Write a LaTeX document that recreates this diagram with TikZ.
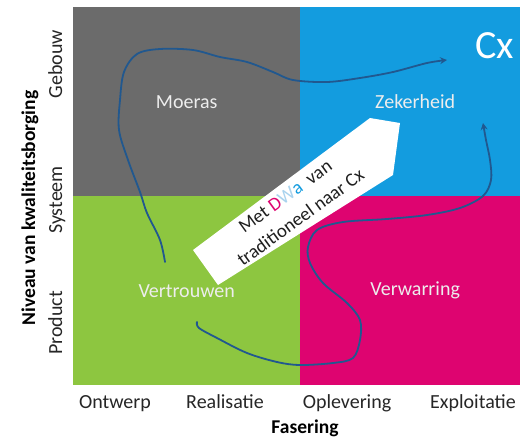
\documentclass[tikz,border=0pt]{standalone}
\usepackage{fontspec}
\setmainfont{Carlito}
\usetikzlibrary{arrows.meta}
\definecolor{qgray}{HTML}{6B6B6B}
\definecolor{qblue}{HTML}{139CDF}
\definecolor{qgreen}{HTML}{8DC640}
\definecolor{qmag}{HTML}{DE0470}
\definecolor{pen}{HTML}{21588F}
\definecolor{dwaw}{HTML}{A9D3EE}
\definecolor{axtext}{HTML}{262626}
\tikzset{
  quad/.style={draw=none, inner sep=0pt, minimum width=227pt, minimum height=189pt, text=white!93!black, font=\fontsize{20}{22}\selectfont},
  axlab/.style={text=axtext, font=\fontsize{20}{22}\selectfont, inner sep=0pt, anchor=base},
  axtitle/.style={text=black, font=\bfseries\fontsize{19.5}{22}\selectfont, inner sep=0pt, anchor=base},
  penline/.style={draw=pen, line width=1.8pt, line cap=round, line join=round},
  pentip/.style={-{Stealth[length=7pt,width=7pt,inset=2.5pt]}}
}
\begin{document}
\begin{tikzpicture}[x=1pt,y=-1pt]
\useasboundingbox (0,0) rectangle (520,437);
\fill[white] (0,0) rectangle (520,437);
% quadrants
\node[quad, fill=qgray, anchor=north west] (moeras) at (73,7) {Moeras};
\node[quad, fill=qblue, anchor=north west, minimum width=230pt] (zeker) at (300,7) {Zekerheid};
\node[quad, fill=qgreen, anchor=north west] (vertr) at (73,196) {Vertrouwen};
\node[quad, fill=qmag, anchor=north west, minimum width=230pt] (verw) at (300,196) {Verwarring};
\node[text=white, font=\fontsize{40}{42}\selectfont, inner sep=0pt] (cx) at (495,46) {Cx};
% big white arrow
\fill[white] (193,250) -- (370,118) -- (400,123) -- (393,175) -- (218,285) -- cycle;
\node[rotate=36, align=center, font=\fontsize{19}{26}\selectfont, text=black!88, inner sep=0pt] (arrtext) at (293,207)
  {Met \textcolor{qmag}{D}\textcolor{dwaw}{W}\textcolor{qblue}{a}\ \ van\\traditioneel naar Cx};
% pen curves
\draw[penline, pentip] plot[smooth, tension=0.55] coordinates {
  (165,262) (160,240) (147,213) (140,192) (128,160) (119,130) (120,100) (124,72) (137,54) (160,49) (193,50) (220,57) (247,62) (273,72) (293,80) (327,82) (360,78) (393,72) (427,63) (447,60)};
\draw[penline, pentip] plot[smooth, tension=0.55] coordinates {
  (197,322) (199,328) (217,338) (247,353) (277,362) (300,365) (333,363) (353,358) (360,340) (360,320) (347,303) (323,283) (310,263) (308,247) (317,230) (343,222) (387,219) (427,215) (460,208) (483,196) (491,180) (490,160) (486,140) (483,123)};
% axis labels
\node[axlab] (ontw) at (115,408) {Ontwerp};
\node[axlab] (real) at (225,408) {Realisatie};
\node[axlab] (oplev) at (347,408) {Oplevering};
\node[axlab] (expl) at (473,408) {Exploitatie};
\node[axtitle] (fas) at (305,433) {Fasering};
\node[axlab, rotate=90] (geb) at (62,64) {Gebouw};
\node[axlab, rotate=90] (sys) at (62,200) {Systeem};
\node[axlab, rotate=90] (prod) at (62,323) {Product};
\node[axtitle, rotate=90] (niv) at (35,208) {Niveau van kwaliteitsborging};
\end{tikzpicture}
\end{document}
